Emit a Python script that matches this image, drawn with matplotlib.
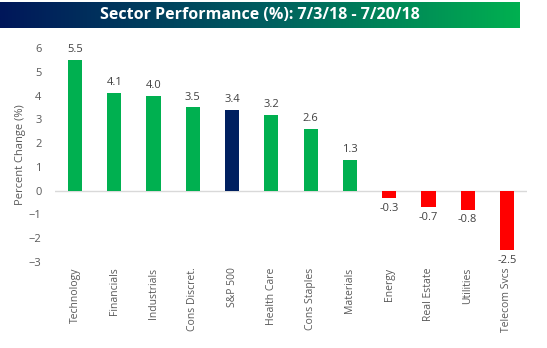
import numpy as np
import matplotlib
matplotlib.use("Agg")
import matplotlib.pyplot as plt
from matplotlib.colors import LinearSegmentedColormap

sectors = ["Technology", "Financials", "Industrials", "Cons Discret.", "S&P 500",
           "Health Care", "Cons Staples", "Materials", "Energy", "Real Estate",
           "Utilities", "Telecom Svcs"]
changes = [5.5, 4.1, 4.0, 3.5, 3.4, 3.2, 2.6, 1.3, -0.3, -0.7, -0.8, -2.5]
title = "Sector Performance (%): 7/3/18 - 7/20/18"

plt.rcParams["font.family"] = ["Open Sans", "DejaVu Sans"]
text_color = "#595959"

fig = plt.figure(figsize=(5.47, 3.48), dpi=100)

# title banner with navy -> green gradient
ban = fig.add_axes([0, 1 - 28 / 348, 520 / 547, 26 / 348])
cmap = LinearSegmentedColormap.from_list("banner", ["#00175a", "#005c60", "#00b050"])
ban.imshow(np.linspace(0, 1, 256).reshape(1, -1), aspect="auto", cmap=cmap,
           extent=[0, 1, 0, 1])
ban.axis("off")
ban.text(0.5, 0.5, title, color="white", fontsize=11.5, fontweight="bold",
         ha="center", va="center", transform=ban.transAxes)

ax = fig.add_axes([55.4 / 547, 1 - 262 / 348, 471.2 / 547, 214 / 348])
colors = []
for name, v in zip(sectors, changes):
    if name == "S&P 500":
        colors.append("#002060")
    elif v >= 0:
        colors.append("#00b050")
    else:
        colors.append("#ff0000")

x = np.arange(len(sectors))
ax.bar(x, changes, width=0.36, color=colors, zorder=2)
ax.axhline(0, color="#d9d9d9", linewidth=1, zorder=1)

for xi, v in zip(x, changes):
    if v >= 0:
        ax.text(xi, v + 0.2, f"{v:.1f}", ha="center", va="bottom",
                fontsize=8, color="#404040")
    else:
        ax.text(xi, v - 0.2, f"{v:.1f}", ha="center", va="top",
                fontsize=8, color="#404040")

ax.set_xlim(-0.5, len(sectors) - 0.5)
ax.set_ylim(-3, 6)
ax.set_yticks(range(-3, 7))
ax.set_xticks(x)
ax.set_xticklabels(sectors, rotation=90, fontsize=7.5, color=text_color)
ax.tick_params(axis="y", labelsize=8, labelcolor=text_color, length=0, pad=10)
ax.tick_params(axis="x", length=0, pad=4)
ax.set_ylabel("Percent Change (%)", fontsize=8, color=text_color, labelpad=2)
for s in ax.spines.values():
    s.set_visible(False)

fig.savefig("out.png", dpi=100)
